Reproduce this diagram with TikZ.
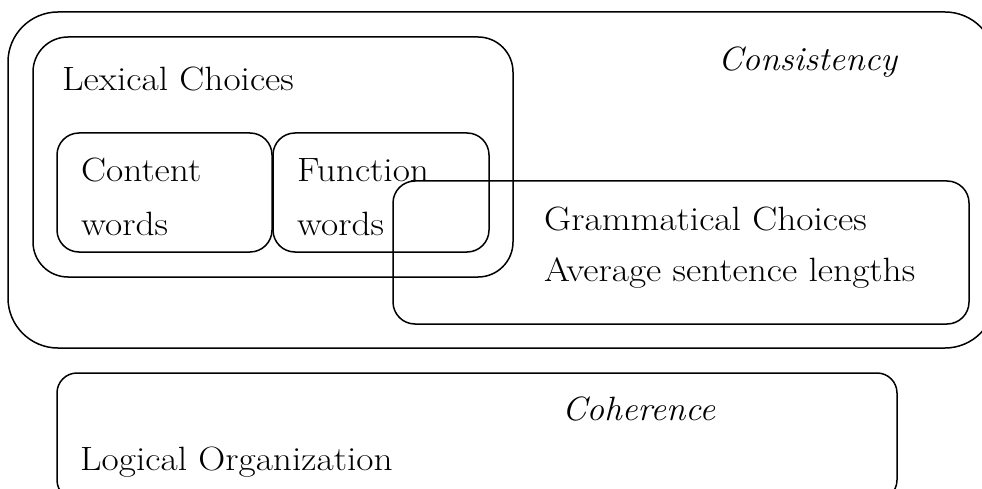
\documentclass[tikz,border=0pt]{standalone}
\usepackage{fontspec}
\setmainfont{Latin Modern Roman}[UprightFeatures={FakeStretch=1.11}, ItalicFeatures={FakeStretch=1.04}]
\usepackage{tikz}
\usetikzlibrary{positioning}

\begin{document}
\begin{tikzpicture}[
            x=1pt, y=-1pt,
            frame/.style={draw, line width=1.5pt, inner sep=0pt, outer sep=0pt},
            txt/.style={anchor=base west, inner sep=0pt, font=\fontsize{33.7}{40}\selectfont},
            titletxt/.style={txt, font=\fontsize{33.7}{40}\selectfont\itshape}
        ]
            \useasboundingbox (0,0) rectangle (982,489);

            \node[frame, rounded corners=50pt, minimum width=987pt, minimum height=336pt] (consistency) at (501.5,180) {};
            \node[frame, rounded corners=35pt, minimum width=480pt, minimum height=240pt] (lexical) at (273,157) {};
            \node[frame, rounded corners=22pt, minimum width=215pt, minimum height=119pt] (content) at (164.5,192.5) {};
            \node[frame, rounded corners=22pt, minimum width=216pt, minimum height=119pt, right=1pt of content] (function) {};
            \node[frame, rounded corners=22pt, minimum width=576pt, minimum height=143pt] (grammatical) at (681,252.5) {};
            \node[frame, rounded corners=20pt, minimum width=840pt, minimum height=127pt] (coherence) at (477,436.5) {};

            \node[titletxt] (consistencytxt) at (718,71) {Consistency};
            \node[txt] (lexicaltxt) at (62,91) {Lexical Choices};
            \node[txt] (contenttxt) at (81,182) {Content};
            \node[txt] (contentwords) at (81,235) {words};
            \node[txt] (functiontxt) at (297,182) {Function};
            \node[txt] (functionwords) at (297,235) {words};
            \node[txt] (grammaticaltxt) at (544,230) {Grammatical Choices};
            \node[txt] (lengthtxt) at (544,281) {Average sentence lengths};
            \node[titletxt] (coherencetxt) at (562,420) {Coherence};
            \node[txt] (logicaltxt) at (80,470) {Logical Organization};

        \end{tikzpicture}
\end{document}
